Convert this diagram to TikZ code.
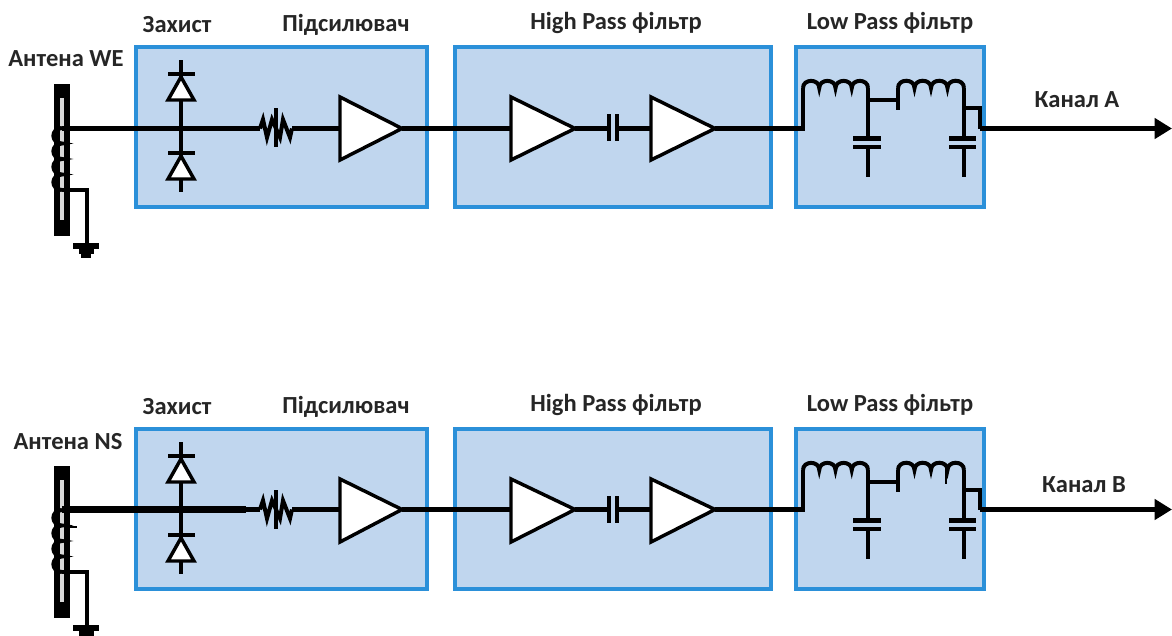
\documentclass[tikz,border=0pt]{standalone}
\usepackage{fontspec}
\setmainfont{Carlito}
\usetikzlibrary{calc,arrows.meta}
\definecolor{boxfill}{RGB}{192,214,238}
\definecolor{boxline}{RGB}{43,144,217}
\definecolor{rodfill}{RGB}{216,216,216}
\tikzset{
    stage/.style={draw=boxline,fill=boxfill,line width=3pt,anchor=north west,inner sep=0pt,outer sep=0pt},
    wire/.style={line width=3.6pt,line join=miter},
    thinwire/.style={line width=3pt},
    plate/.style={line width=3.6pt},
    part/.style={draw,fill=white,line width=2.6pt,line join=miter},
    caption/.style={font=\fontsize{18.4pt}{20pt}\selectfont\bfseries,text=black!85,inner sep=0pt},
}
\begin{document}
\begin{tikzpicture}[x=0.75pt,y=-0.75pt]
    \useasboundingbox (0,0) rectangle (1172,636);
    \foreach \dy/\wy/\ant/\antx/\anty/\out/\outx/\outy/\hy in
        {0/128.5/Антена WE/66/59/Канал А/1077/100/23,
         382/127.5/Антена NS/68/60/Канал В/1084/103/23}{
    \begin{scope}[shift={(0,\dy)}]
        \node[stage,minimum width=218pt,minimum height=120pt] (prot) at (136,47) {};
        \node[stage,minimum width=237pt,minimum height=120pt] (hpf) at (455,47) {};
        \node[stage,minimum width=141pt,minimum height=120pt] (lpf) at (796,47) {};
        \node[caption] (protlbl) at (177,25) {Захист};
        \node[caption] (amplbl) at (346,25) {Підсилювач};
        \node[caption] (hpflbl) at (616,\hy) {High Pass фільтр};
        \node[caption] (lpflbl) at (890,\hy) {Low Pass фільтр};
        \node[caption] (antlbl) at (\antx,\anty) {\ant};
        \node[caption] (outlbl) at (\outx,\outy) {\out};

        \coordinate (in) at (62,\wy);
        \coordinate (gnd) at (62,190);
        \coordinate (res1) at (260,\wy);
        \coordinate (res2) at (292,\wy);
        \coordinate (amp1) at (340,\wy);
        \coordinate (amp1o) at (402,\wy);
        \coordinate (amp2) at (511,\wy);
        \coordinate (amp2o) at (575,\wy);
        \coordinate (cap1) at (609,\wy);
        \coordinate (cap2) at (617,\wy);
        \coordinate (amp3) at (651,\wy);
        \coordinate (amp3o) at (715,\wy);
        \coordinate (lc) at (803,\wy);
        \coordinate (lc2) at (980,\wy);
        \coordinate (outp) at (1172,\wy);

        % antenna
        \draw[line width=4pt,fill=rodfill] (57,87) rectangle (67,233);
        \fill (55,85) rectangle (69,98);
        \fill (55,220) rectangle (69,235);
        \draw[thinwire] (62,128) \foreach \i in {1,...,4}{ to[out=180,in=180,looseness=1.9] ++(0,15.5)};
        \draw[thinwire] (gnd) -| (87,245);
        \fill (73,243) rectangle (99,249);
        \fill (79,249) rectangle (94,254);
        \fill (81,254) rectangle (91,258);

        % main line
        \draw[wire] (in) -- (res1);
        \draw[wire] (res2) -- (amp1);
        \draw[wire] (amp1o) -- (amp2);
        \draw[wire] (amp2o) -- (cap1);
        \draw[wire] (cap2) -- (amp3);
        \draw[wire] (amp3o) -- (lc) -- (803,88);
        \draw[wire,-{Triangle[length=13pt,width=15pt]}] (lc2) -- (outp);
        \draw[wire] (lc2) -- (980,108) -- (964,108);

        % diodes
        \draw[wire] (181,60) -- (181,192);
        \draw[plate] (168,74) -- (195,74);
        \draw[plate] (168,153) -- (195,153);
        \draw[part] (181,77) -- (194,100) -- (168,100) -- cycle;
        \draw[part] (181,156) -- (194,179) -- (168,179) -- cycle;

        % resistor
        \draw[thinwire] (res1) -- (263,\wy-9) -- (267,\wy+9) -- (272,\wy-9) -- (280,\wy+9) -- (283,\wy-9) -- (290,\wy+9) -- (res2);
        \draw[plate] (276,108) -- (276,147);

        % amplifiers
        \draw[part] (amp1 |- 0,97) -- (amp1o) -- (amp1 |- 0,160) -- cycle;
        \draw[part] (amp2 |- 0,97) -- (amp2o) -- (amp2 |- 0,160) -- cycle;
        \draw[part] (amp3 |- 0,97) -- (amp3o) -- (amp3 |- 0,160) -- cycle;

        % series capacitor
        \draw[plate] (cap1 |- 0,114) -- (cap1 |- 0,141);
        \draw[plate] (cap2 |- 0,114) -- (cap2 |- 0,141);

        % low pass
        \draw[thinwire] (803,88) \foreach \i in {1,...,4}{ to[out=90,in=90,looseness=1.5] ++(16.25,0)};
        \draw[thinwire] (898,88) \foreach \i in {1,...,4}{ to[out=90,in=90,looseness=1.5] ++(16.5,0)};
        \draw[wire] (868,88) -- (868,139);
        \draw[wire] (868,147) -- (868,177);
        \draw[wire] (964,88) -- (964,139);
        \draw[wire] (964,147) -- (964,177);
        \draw[plate] (853,138.5) -- (881,138.5);
        \draw[plate] (853,147) -- (881,147);
        \draw[plate] (949,138.5) -- (976,138.5);
        \draw[plate] (949,147) -- (976,147);
        \draw[wire] (868,100) -- (898,100);
        \draw[wire] (898,88) -- (898,110);
    \end{scope}
    }
    % thicker start of the second line, stray ticks
    \draw[line width=5pt] (62,509.5) -- (246,509.5);
    \draw[line width=1pt] (66,527) -- (77,527);
    \draw[line width=1pt] (946,466) -- (946,484);
\end{tikzpicture}
\end{document}
